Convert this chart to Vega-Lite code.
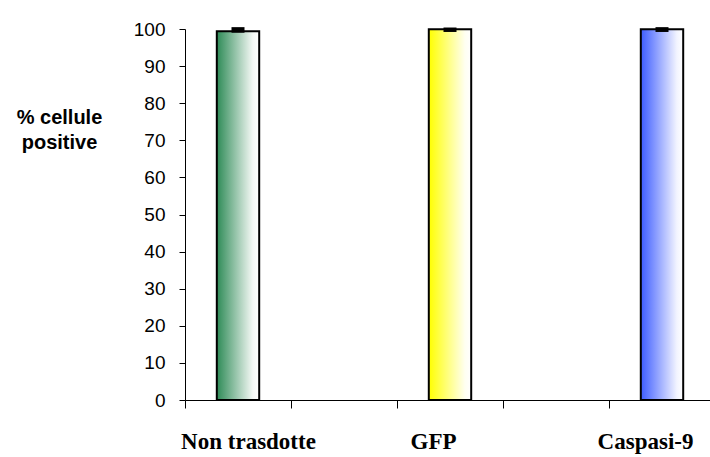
{
  "$schema": "https://vega.github.io/schema/vega-lite/v6.json",
  "autosize": {"type": "none"},
  "padding": {"left": 185, "top": 29, "right": 0, "bottom": 57},
  "width": 525,
  "height": 371,
  "background": "white",
  "config": {"view": {"stroke": null}},
  "data": {
    "values": [
      {"cat": "Non trasdotte", "v": 99.4, "lo": 99.0, "hi": 100.5},
      {"cat": "GFP", "v": 99.9, "lo": 99.2, "hi": 100.4},
      {"cat": "Caspasi-9", "v": 99.9, "lo": 99.2, "hi": 100.5}
    ]
  },
  "encoding": {
    "x": {
      "field": "cat",
      "type": "nominal",
      "sort": null,
      "scale": {"domain": ["Non trasdotte", " ", "GFP", "  ", "Caspasi-9"], "range": [0, 530], "paddingInner": 0, "paddingOuter": 0},
      "axis": {
        "title": null,
        "labelAngle": 0,
        "tickBand": "extent",
        "domainColor": "black",
        "tickColor": "black",
        "tickSize": 8,
        "labelFont": "Liberation Serif",
        "labelFontWeight": "bold",
        "labelFontSize": 23,
        "labelColor": "black",
        "labelPadding": 22,
        "labelOffset": {"condition": {"test": "datum.value == 'Non trasdotte'", "value": 10}, "value": -17}
      }
    },
    "y": {
      "field": "v", "type": "quantitative",
      "scale": {"domain": [0, 100], "nice": false},
      "axis": {
        "values": [0, 10, 20, 30, 40, 50, 60, 70, 80, 90, 100],
        "labelOverlap": false,
        "grid": false,
        "domainColor": "black",
        "tickColor": "black",
        "tickSize": 6,
        "labelFont": "Liberation Sans",
        "labelFontSize": 19,
        "labelColor": "black",
        "labelPadding": 14,
        "title": ["% cellule", "positive"],
        "titleFont": "Liberation Sans",
        "titleFontSize": 20,
        "titleFontWeight": "bold",
        "titleColor": "black",
        "titleAngle": 0,
        "titleAlign": "center",
        "titleBaseline": "alphabetic",
        "titleX": -126,
        "titleY": 94,
        "titleLineHeight": 25
      }
    }
  },
  "layer": [
    {
      "transform": [{"filter": "datum.cat == 'Non trasdotte'"}],
      "mark": {"type": "bar", "width": {"band": 0.4}, "stroke": "black", "strokeWidth": 2,
        "fill": {"gradient": "linear", "x1": 0, "y1": 0, "x2": 1, "y2": 0,
          "stops": [{"offset": 0, "color": "#2e8b57"}, {"offset": 0.85, "color": "#f4f8f5"}, {"offset": 1, "color": "#ffffff"}]}}
    },
    {
      "transform": [{"filter": "datum.cat == 'GFP'"}],
      "mark": {"type": "bar", "width": {"band": 0.4}, "stroke": "black", "strokeWidth": 2,
        "fill": {"gradient": "linear", "x1": 0, "y1": 0, "x2": 1, "y2": 0,
          "stops": [{"offset": 0, "color": "#ffff00"}, {"offset": 0.85, "color": "#fffff0"}, {"offset": 1, "color": "#ffffff"}]}}
    },
    {
      "transform": [{"filter": "datum.cat == 'Caspasi-9'"}],
      "mark": {"type": "bar", "width": {"band": 0.4}, "stroke": "black", "strokeWidth": 2,
        "fill": {"gradient": "linear", "x1": 0, "y1": 0, "x2": 1, "y2": 0,
          "stops": [{"offset": 0, "color": "#3d5cff"}, {"offset": 0.85, "color": "#f2f4ff"}, {"offset": 1, "color": "#ffffff"}]}}
    },
    {
      "mark": {"type": "bar", "width": 13, "color": "black"},
      "encoding": {
        "y": {"field": "lo", "type": "quantitative"},
        "y2": {"field": "hi"}
      }
    }
  ]
}
